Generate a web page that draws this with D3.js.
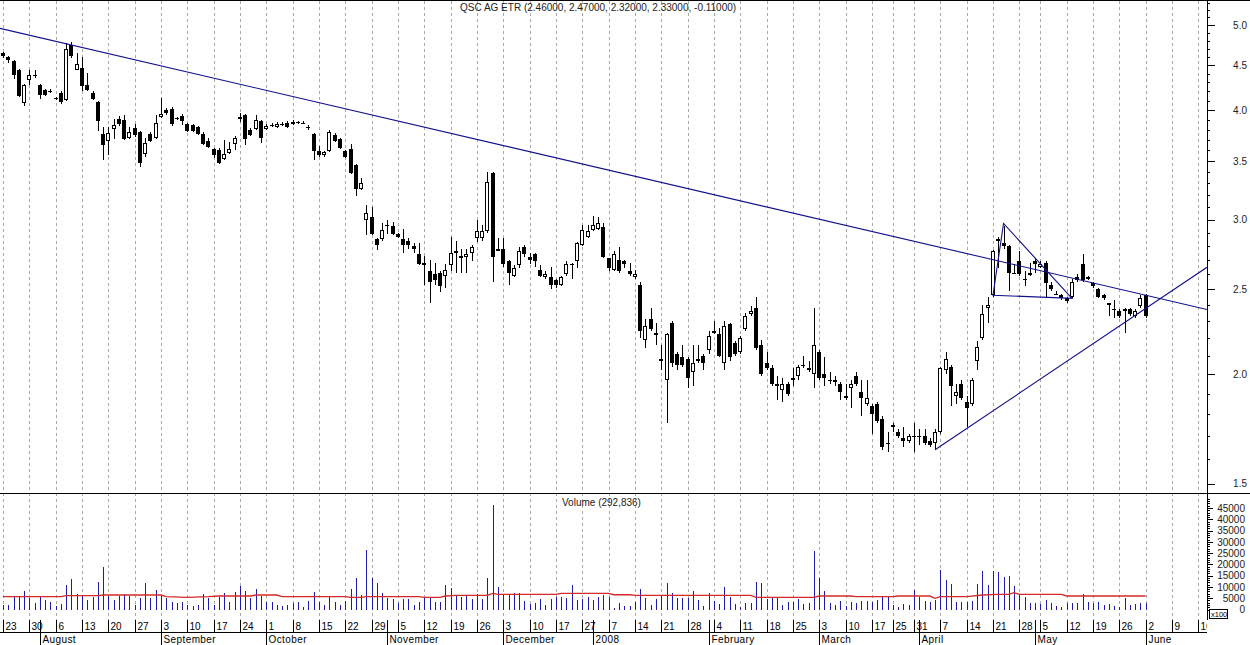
<!DOCTYPE html>
<html><head><meta charset="utf-8">
<script src="https://cdn.jsdelivr.net/npm/d3@7"></script>
<style>
body{margin:0;background:#fff}
svg{display:block;font-family:"Liberation Sans",Arial,sans-serif}
</style>
</head><body>
<svg id="c" width="1250" height="645"></svg>
<script>
// ---------------- DATA ----------------
const titleText = "QSC AG  ETR (2.46000, 2.47000, 2.32000, 2.33000, -0.11000)";
const volumeTitle = "Volume (292,836)";
const firstDay = "2007-07-23";
const lastAxisDay = "2008-06-20";
const holidays = ["2007-12-24","2007-12-25","2007-12-26","2007-12-31","2008-01-01","2008-03-21","2008-03-24","2008-05-01"];
const monthNames = ["2008","February","March","April","May","June","July","August","September","October","November","December"];

const openP = [
4.64,4.60,4.55,4.44,4.07,4.33,4.39,4.27,4.22,4.21,
4.13,4.18,4.11,4.74,4.44,4.47,4.27,4.18,4.09,3.76,
3.69,3.81,3.91,3.90,3.72,3.82,3.78,3.56,3.76,3.72,
3.93,4.00,4.01,3.92,3.94,3.86,3.85,3.83,3.76,3.69,
3.61,3.60,3.52,3.57,3.66,3.91,3.95,3.80,3.81,3.89,
3.81,3.85,3.83,3.86,3.87,3.86,3.88,3.87,3.83,3.76,
3.59,3.55,3.59,3.75,3.71,3.59,3.61,3.46,3.25,3.00,
3.02,2.85,2.85,2.96,2.95,2.89,2.85,2.84,2.80,2.74,
2.66,2.62,2.60,2.61,2.59,2.66,2.75,2.72,2.72,2.75,
2.86,2.86,2.91,3.39,2.77,2.78,2.69,2.59,2.66,2.79,
2.72,2.74,2.63,2.58,2.58,2.56,2.53,2.60,2.67,2.69,
2.81,2.87,2.92,2.93,2.94,2.71,2.63,2.70,2.69,2.62,
2.58,2.53,2.19,2.31,2.22,2.08,1.97,2.29,2.11,2.09,
2.08,2.01,2.08,2.10,2.13,2.24,2.22,2.06,2.28,2.17,
2.12,2.25,2.34,2.38,2.16,2.06,2.03,1.95,1.92,1.95,
1.98,1.99,2.05,2.03,2.00,2.12,2.00,1.97,1.97,1.95,
1.89,1.93,1.99,1.91,1.85,1.84,1.85,1.78,1.67,1.75,
1.72,1.69,1.68,1.70,1.70,1.70,1.68,1.67,1.72,2.02,
2.04,1.89,1.95,1.86,1.85,2.07,2.20,2.38,2.46,2.84,
2.82,2.80,2.61,2.69,2.57,2.60,2.69,2.65,2.68,2.53,
2.47,2.46,2.44,2.45,2.58,2.67,2.58,2.54,2.50,2.46,
2.41,2.37,2.36,2.37,2.37,2.33,2.39,2.46];
const highP = [
4.66,4.61,4.56,4.45,4.28,4.44,4.44,4.28,4.23,4.23,
4.14,4.21,4.77,4.78,4.64,4.60,4.41,4.20,4.10,3.83,
3.83,3.91,3.94,3.95,3.83,3.86,3.79,3.72,3.78,3.95,
4.13,4.02,4.03,3.93,3.96,3.87,3.86,3.84,3.78,3.72,
3.62,3.62,3.70,3.68,3.74,3.97,3.96,3.82,3.95,3.90,
3.86,3.87,3.88,3.88,3.89,3.90,3.89,3.89,3.85,3.77,
3.64,3.59,3.80,3.77,3.72,3.60,3.66,3.47,3.35,3.12,
3.10,2.86,2.97,3.00,2.98,2.90,2.93,2.86,2.82,2.82,
2.73,2.70,2.68,2.62,2.67,2.87,2.84,2.78,2.78,2.81,
3.00,2.96,3.40,3.40,2.86,2.86,2.70,2.66,2.79,2.81,
2.75,2.75,2.66,2.62,2.65,2.57,2.59,2.69,2.68,2.83,
2.96,2.96,3.03,3.02,2.97,2.71,2.76,2.79,2.70,2.68,
2.63,2.55,2.31,2.38,2.29,2.16,2.23,2.30,2.12,2.16,
2.09,2.16,2.16,2.11,2.24,2.30,2.26,2.30,2.29,2.18,
2.21,2.35,2.39,2.45,2.19,2.12,2.05,1.99,1.98,1.96,
2.03,2.05,2.10,2.07,2.38,2.13,2.09,2.01,1.99,1.96,
1.95,1.97,2.01,1.97,1.97,1.85,1.86,1.79,1.72,1.76,
1.73,1.74,1.71,1.76,1.73,1.73,1.69,1.73,2.04,2.12,
2.05,1.95,1.97,1.89,1.98,2.18,2.40,2.45,2.77,2.87,
2.95,2.81,2.67,2.76,2.62,2.68,2.71,2.69,2.69,2.55,
2.49,2.47,2.45,2.57,2.60,2.74,2.59,2.55,2.51,2.47,
2.41,2.43,2.37,2.38,2.38,2.37,2.46,2.47];
const lowP = [
4.59,4.53,4.34,4.14,4.04,4.27,4.35,4.12,4.15,4.18,
4.11,4.06,4.10,4.59,4.44,4.20,4.20,4.11,3.79,3.51,
3.55,3.71,3.84,3.70,3.71,3.73,3.44,3.54,3.68,3.71,
3.92,3.95,3.84,3.90,3.85,3.78,3.78,3.75,3.65,3.62,
3.53,3.47,3.51,3.56,3.60,3.88,3.65,3.74,3.80,3.67,
3.80,3.83,3.82,3.84,3.82,3.85,3.86,3.86,3.80,3.51,
3.54,3.54,3.58,3.68,3.61,3.53,3.38,3.19,3.24,2.88,
2.88,2.77,2.84,2.89,2.88,2.86,2.75,2.78,2.75,2.66,
2.53,2.41,2.53,2.48,2.51,2.62,2.61,2.61,2.61,2.69,
2.83,2.84,2.90,2.55,2.76,2.65,2.53,2.58,2.64,2.72,
2.67,2.65,2.58,2.57,2.50,2.51,2.52,2.59,2.57,2.64,
2.80,2.86,2.91,2.92,2.71,2.62,2.62,2.61,2.64,2.59,
2.57,2.20,2.14,2.24,2.16,2.02,1.76,2.04,2.02,2.04,
1.93,1.94,2.06,2.02,2.11,2.22,2.09,2.02,2.07,2.10,
2.11,2.24,2.33,2.13,1.99,2.02,1.94,1.87,1.86,1.89,
1.94,1.97,2.03,2.01,1.93,1.97,1.94,1.95,1.94,1.87,
1.87,1.83,1.94,1.79,1.84,1.71,1.76,1.64,1.63,1.72,
1.69,1.65,1.67,1.63,1.66,1.66,1.65,1.64,1.71,2.00,
1.84,1.85,1.87,1.74,1.84,2.02,2.19,2.29,2.45,2.64,
2.78,2.49,2.60,2.59,2.52,2.59,2.61,2.64,2.45,2.49,
2.46,2.43,2.41,2.44,2.55,2.55,2.56,2.51,2.44,2.43,
2.33,2.32,2.32,2.23,2.33,2.32,2.38,2.32];
const closeP = [
4.61,4.56,4.39,4.15,4.27,4.38,4.38,4.16,4.16,4.20,
4.12,4.08,4.69,4.61,4.51,4.26,4.22,4.12,3.89,3.65,
3.77,3.85,3.86,3.71,3.78,3.75,3.48,3.67,3.69,3.87,
3.96,3.97,3.86,3.91,3.89,3.79,3.79,3.76,3.66,3.63,
3.55,3.48,3.56,3.61,3.72,3.93,3.71,3.75,3.90,3.72,
3.84,3.85,3.86,3.86,3.83,3.88,3.87,3.87,3.82,3.59,
3.55,3.58,3.78,3.69,3.62,3.54,3.39,3.25,3.30,3.05,
2.89,2.81,2.92,2.96,2.89,2.87,2.81,2.81,2.78,2.67,
2.68,2.55,2.56,2.52,2.63,2.75,2.76,2.73,2.74,2.79,
2.91,2.91,3.31,2.72,2.78,2.67,2.61,2.64,2.76,2.74,
2.70,2.69,2.59,2.60,2.53,2.53,2.58,2.67,2.66,2.82,
2.92,2.91,2.96,2.97,2.72,2.64,2.74,2.62,2.67,2.60,
2.60,2.24,2.27,2.25,2.23,2.07,2.22,2.06,2.05,2.05,
1.98,2.06,2.07,2.06,2.21,2.23,2.10,2.27,2.09,2.11,
2.20,2.33,2.36,2.14,2.00,2.03,1.95,1.94,1.95,1.90,
1.97,2.04,2.05,2.02,2.16,1.98,1.98,1.97,1.96,1.91,
1.88,1.95,1.95,1.88,1.88,1.80,1.77,1.65,1.67,1.74,
1.70,1.68,1.70,1.70,1.70,1.67,1.66,1.72,2.03,2.08,
1.94,1.91,1.88,1.83,1.97,2.15,2.34,2.40,2.76,2.85,
2.80,2.61,2.61,2.60,2.56,2.61,2.67,2.67,2.54,2.50,
2.47,2.44,2.42,2.55,2.56,2.56,2.57,2.52,2.45,2.44,
2.40,2.37,2.33,2.36,2.34,2.36,2.44,2.33];
// volume in units of 100 shares (axis shows x100)
const volume = [
2000,2000,5700,5700,8300,5000,3000,6000,4200,3500,
1600,2400,10900,13500,6700,6400,4200,5400,12300,18800,
6000,4200,6000,6900,6100,2000,5000,11900,5000,8600,
6000,5000,3500,3000,3200,2000,1600,2000,6900,5000,
2000,5700,7200,3500,7900,10600,8300,5000,9100,6000,
3200,3500,2000,1600,2000,2700,3200,1300,3800,7900,
3500,2000,5700,3500,2000,3800,9100,14100,6400,26400,
13800,11900,7200,5000,4700,3000,4700,4700,2000,3300,
5700,5700,3200,3500,10800,9700,6000,5700,6000,4600,
6900,4600,14100,46300,10100,6400,6400,7200,7200,3800,
2300,3000,4600,2000,4500,5400,5400,5000,10800,4200,
4500,5700,4200,5400,6400,5400,800,2700,1600,1600,
3500,9100,5200,2000,4600,6400,11600,7200,5000,5000,
5000,8300,4200,1600,7200,3800,2300,10100,5700,2300,
1300,2700,3000,12300,11900,4500,5000,5700,2000,3200,
3500,4500,2300,2700,26100,13800,8300,3000,2000,3800,
1600,3500,3000,3800,3800,3500,4200,6000,5700,2000,
1300,2400,2000,8600,5400,3800,3500,4200,17500,13100,
11300,3500,3500,3500,3900,11300,17200,10900,17200,16800,
14600,14800,10400,6400,5700,2700,3000,2400,4200,2700,
1600,1300,2700,3000,3000,6900,3500,3000,3500,2000,
2300,1600,1000,5000,2000,2400,3000,2928];
// volume moving-average line, read at its break points (bar number, value)
const maKnotBar   = [0,11,12,18,19,30,31,35,39,41,47,48,52,53,65,66,68,69,79,80,83,84,86,92,93,94,105,106,115,116,119,120,142,143,154,155,161,162,169,170,176,177,178,183,186,189,191,192,193,201,202,217];
const maKnotValue = [5690,5690,6130,6130,6420,6420,5690,5390,5690,5980,5980,6420,6420,5690,5690,5390,5390,5690,5690,5390,5390,5980,6280,6280,7160,6720,6720,7160,7160,6570,6570,6280,6280,5390,5390,5980,5980,5690,5690,5980,5980,4950,5690,5690,6420,6720,6720,7460,6720,6720,5980,5980];
// drawn trend lines (bar number, price)
const downTrend = [[12,4.76],[217,2.46]];
const upTrend = [[177,1.64],[213,2.29]];
const pennant = [[188,2.46],[190,2.97],[203,2.44]];
const priceTickLabels = [1.5,2.0,2.5,3.0,3.5,4.0,4.5,5.0];
const volumeTickLabels = [0,5000,10000,15000,20000,25000,30000,35000,40000,45000];

// ---------------- LAYOUT ----------------
const svg = d3.select("#c");
const W = 1250, H = 645, axisX = 1207, priceBottom = 493, volTop = 494, volBottom = 620, rowLine = 632;
const nBars = openP.length;

const fmt = d3.utcFormat("%Y-%m-%d");
const parse = d3.utcParse("%Y-%m-%d");
const days = d3.utcDay.range(parse(firstDay), d3.utcDay.offset(parse(lastAxisDay),1))
  .filter(d => d.getUTCDay() !== 0 && d.getUTCDay() !== 6 && !holidays.includes(fmt(d)));

const x = d3.scaleLinear().domain([0, 217]).range([3, 1145.7]);
const y = d3.scaleLog().domain([1.464, 5.339]).range([priceBottom, 0]);
const yv = d3.scaleLinear().domain([0, 45000]).range([609.5, 508]);
const px = i => Math.round(x(i));

svg.append("rect").attr("width", W).attr("height", H).attr("fill", "#fff");

const defs = svg.append("defs");
defs.append("clipPath").attr("id","pclip").append("rect").attr("x",0).attr("y",0).attr("width",axisX).attr("height",priceBottom);
defs.append("clipPath").attr("id","lclip").append("rect").attr("x",0).attr("y",0).attr("width",axisX).attr("height",H);

// week / month ticks
const weekTicks = [], monthTicks = [];
let lastX = -100;
days.forEach((d, i) => {
  const newWeek = i === 0 || d.getUTCDay() <= days[i-1].getUTCDay();
  if (newWeek && x(i) - lastX >= 14) { weekTicks.push(i); lastX = x(i); }
  if (i > 0 && d.getUTCMonth() !== days[i-1].getUTCMonth()) monthTicks.push(i);
});

// grid
const gridG = svg.append("g").attr("clip-path","url(#lclip)");
gridG.selectAll("line").data(weekTicks).join("line")
  .attr("x1", i => px(i) + 0.5).attr("x2", i => px(i) + 0.5)
  .attr("y1", 1).attr("y2", volBottom)
  .attr("stroke", "#a8a8a8").attr("stroke-width", 1).attr("stroke-dasharray", "3,3");

// frame lines
svg.append("line").attr("x1",0).attr("x2",W).attr("y1",0.5).attr("y2",0.5).attr("stroke","#000");
svg.append("line").attr("x1",0).attr("x2",W).attr("y1",priceBottom+0.5).attr("y2",priceBottom+0.5).attr("stroke","#000");
svg.append("line").attr("x1",0).attr("x2",axisX).attr("y1",rowLine+0.5).attr("y2",rowLine+0.5).attr("stroke","#000");
svg.append("line").attr("x1",axisX+0.5).attr("x2",axisX+0.5).attr("y1",0).attr("y2",volBottom).attr("stroke","#000");

// ---------------- CANDLES ----------------
const bars = d3.range(nBars).map(i => ({i, o: openP[i], h: highP[i], l: lowP[i], c: closeP[i], v: volume[i]}));
const cg = svg.append("g").attr("clip-path","url(#pclip)").attr("shape-rendering","crispEdges");
cg.selectAll("line.wick").data(bars).join("line").attr("class","wick")
  .attr("x1", d => px(d.i)).attr("x2", d => px(d.i))
  .attr("y1", d => y(d.h)).attr("y2", d => y(d.l))
  .attr("stroke", "#000").attr("stroke-width", 1);
cg.selectAll("rect.body").data(bars).join("rect").attr("class","body")
  .each(function(d){
    const top = Math.round(y(Math.max(d.o, d.c))), bot = Math.round(y(Math.min(d.o, d.c)));
    const s = d3.select(this);
    if (d.c > d.o) {
      s.attr("x", px(d.i) - 1.5).attr("y", top + 0.5).attr("width", 3).attr("height", Math.max(1, bot - top - 1))
       .attr("fill", "#fff").attr("stroke", "#000").attr("stroke-width", 1);
    } else {
      s.attr("x", px(d.i) - 2).attr("y", top).attr("width", 4).attr("height", Math.max(1, bot - top))
       .attr("fill", "#000");
    }
  });

// trend lines
const tg = svg.append("g").attr("clip-path","url(#pclip)").attr("fill","none").attr("stroke","#10108a").attr("stroke-width",1.1);
function extLine(pts, x0, x1) {
  const ax = x(pts[0][0]), ay = y(pts[0][1]), bx = x(pts[1][0]), by = y(pts[1][1]);
  const k = (by - ay) / (bx - ax);
  return [[x0, ay + k*(x0-ax)], [x1, ay + k*(x1-ax)]];
}
tg.append("path").attr("d", d3.line()(extLine(downTrend, 0, axisX)));
tg.append("path").attr("d", d3.line()(extLine(upTrend, x(upTrend[0][0]), axisX)));
tg.append("path").attr("d", d3.line()(pennant.map(p => [x(p[0]), y(p[1])])) + "Z");

// ---------------- VOLUME ----------------
const vg = svg.append("g").attr("shape-rendering","crispEdges");
vg.selectAll("line").data(bars).join("line")
  .attr("x1", d => px(d.i) + 0.5).attr("x2", d => px(d.i) + 0.5)
  .attr("y1", yv(0)).attr("y2", d => yv(d.v))
  .attr("stroke", "#1c1caa").attr("stroke-width", 1);
svg.append("path")
  .attr("d", d3.line().x(d => x(d[0])).y(d => yv(d[1]))(maKnotBar.map((b,k) => [b, maKnotValue[k]])))
  .attr("fill","none").attr("stroke","#d42a2a").attr("stroke-width",1.4);

// ---------------- AXES ----------------
const minorPrice = d3.range(15, 54).map(k => k/10);
const pa = svg.append("g").attr("transform", `translate(${axisX},0)`);
pa.append("g").call(d3.axisRight(y).tickValues(minorPrice).tickSize(3).tickFormat(""));
pa.append("g").attr("class","pmaj").call(d3.axisRight(y).tickValues(priceTickLabels).tickSize(8).tickFormat(d3.format(".1f")));
pa.selectAll(".domain").remove();
pa.selectAll(".pmaj text").attr("text-anchor","end").attr("x", 40).attr("font-size", 10)
  .attr("font-family", '"Liberation Sans",Arial,sans-serif').attr("fill","#222");

const minorVol = d3.range(0, 50000, 1000);
const va = svg.append("g").attr("transform", `translate(${axisX},0)`);
va.append("g").call(d3.axisRight(yv).tickValues(minorVol).tickSize(3).tickFormat(""));
va.append("g").attr("class","vmaj").call(d3.axisRight(yv).tickValues(volumeTickLabels).tickSize(6).tickFormat(d3.format("d")));
va.selectAll(".domain").remove();
va.selectAll(".vmaj text").attr("text-anchor","end").attr("x", 38).attr("font-size", 10)
  .attr("font-family", '"Liberation Sans",Arial,sans-serif').attr("fill","#222");
pa.selectAll("line").attr("shape-rendering","crispEdges");
va.selectAll("line").attr("shape-rendering","crispEdges");

// x100 box
svg.append("rect").attr("x",1209.5).attr("y",609.5).attr("width",18).attr("height",9).attr("fill","#fff").attr("stroke","#000");
svg.append("text").attr("x",1211).attr("y",617).attr("font-size",7.5).attr("fill","#000").text("x100");

// date labels
const lg = svg.append("g").attr("clip-path","url(#lclip)").attr("font-size",10).attr("fill","#000");
lg.selectAll("line.wt").data(weekTicks).join("line").attr("class","wt")
  .attr("x1", i => px(i) + 0.5).attr("x2", i => px(i) + 0.5).attr("y1", 620).attr("y2", rowLine)
  .attr("stroke","#000").attr("shape-rendering","crispEdges");
lg.selectAll("text.wl").data(weekTicks).join("text").attr("class","wl")
  .attr("x", i => px(i) + 2.5).attr("y", 630).text(i => days[i].getUTCDate());
lg.selectAll("line.mt").data(monthTicks).join("line").attr("class","mt")
  .attr("x1", i => px(i) + 0.5).attr("x2", i => px(i) + 0.5).attr("y1", 620).attr("y2", H)
  .attr("stroke","#000").attr("shape-rendering","crispEdges");
lg.selectAll("text.ml").data(monthTicks).join("text").attr("class","ml")
  .attr("x", i => px(i) + 2.5).attr("y", 643).attr("letter-spacing", 0.4)
  .text(i => monthNames[days[i].getUTCMonth()]);

// titles
svg.append("text").attr("x", 460).attr("y", 11).attr("font-size", 10).attr("fill","#222").text(titleText);
svg.append("text").attr("x", 562).attr("y", 506).attr("font-size", 10).attr("fill","#222").text(volumeTitle);
</script>
</body></html>
